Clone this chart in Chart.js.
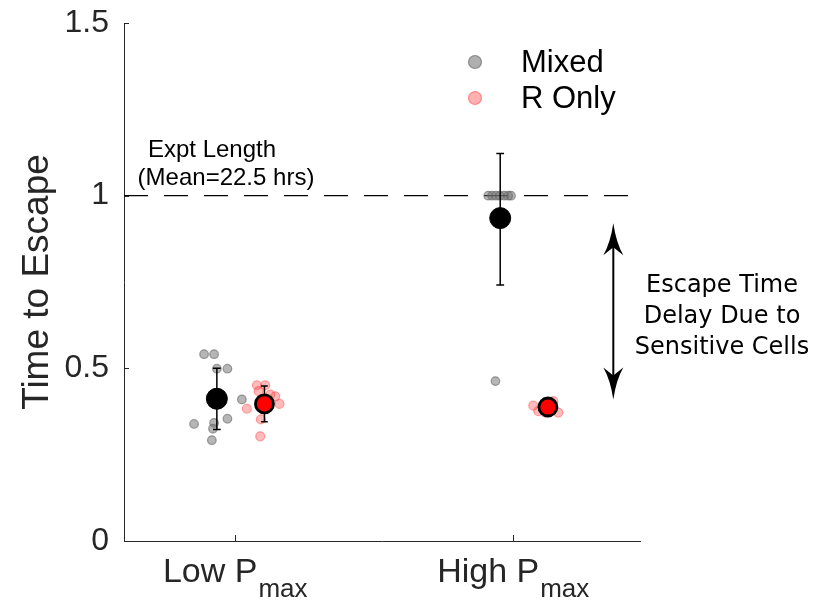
<!DOCTYPE html>
<html>
<head>
<meta charset="utf-8">
<script src="https://cdn.jsdelivr.net/npm/chart.js@4.4.1/dist/chart.umd.min.js"></script>
<style>
  body { margin: 0; background: #fff; }
  canvas { display: block; }
</style>
</head>
<body>
<canvas id="escapeChart" width="816" height="602"></canvas>
<script>
// categories and where they sit on the x axis
const categories = ['Low', 'High'];
const categoryX = [1, 3.5];
const yTicks = [0, 0.5, 1, 1.5];
const exptLength = 1; // normalised experiment length (mean 22.5 hrs)

// individual runs, Mixed population
const mixedX = [0.72, 0.81, 0.835, 0.93, 1.06, 0.93, 0.63, 0.81, 0.80, 0.79,
                3.275, 3.31, 3.345, 3.38, 3.42, 3.455, 3.48, 3.34];
const mixedY = [0.541, 0.541, 0.499, 0.499, 0.410, 0.354, 0.339, 0.342, 0.325, 0.292,
                1.0, 1.0, 1.0, 1.0, 1.0, 1.0, 1.0, 0.463];

// individual runs, R Only population
const rOnlyX = [1.195, 1.27, 1.315, 1.36, 1.398, 1.105, 1.231, 1.225, 1.21,
                3.68, 3.86, 3.905, 3.725, 3.79, 3.815];
const rOnlyY = [0.451, 0.451, 0.424, 0.419, 0.397, 0.383, 0.352, 0.303, 0.434,
                0.392, 0.405, 0.372, 0.376, 0.372, 0.387];

// means with error bars
const mixedMeanX = [0.835, 3.383];
const mixedMean = [0.412, 0.935];
const mixedLo = [0.323, 0.741];
const mixedHi = [0.500, 1.122];

const rOnlyMeanX = [1.263, 3.812];
const rOnlyMean = [0.397, 0.388];
const rOnlyLo = [0.345, 0.377];
const rOnlyHi = [0.449, 0.399];

// delay arrow (x, y from, y to) in data units
const arrowX = 4.40;
const arrowY = [0.92, 0.41];

const FONT = "'Liberation Sans', Arial, Helvetica, sans-serif";
const AXIS = '#262626';

function toPts(xs, ys) {
    return xs.map((x, i) => ({ x: x, y: ys[i] }));
}

// error bar segments, separated by gaps
function errorSegments(xs, lo, hi, cap) {
    const pts = [];
    xs.forEach((x, i) => {
        pts.push({ x: x, y: lo[i] }, { x: x, y: hi[i] }, { x: x, y: null });
        pts.push({ x: x - cap, y: lo[i] }, { x: x + cap, y: lo[i] }, { x: x, y: null });
        pts.push({ x: x - cap, y: hi[i] }, { x: x + cap, y: hi[i] }, { x: x, y: null });
    });
    return pts;
}

const xMax = 4.64;

const decorations = {
    id: 'decorations',
    afterDraw(chart) {
        const ctx = chart.ctx;
        const xs = chart.scales.x;
        const ys = chart.scales.y;
        const area = chart.chartArea;

        ctx.save();
        ctx.strokeStyle = AXIS;
        ctx.lineWidth = 1;
        // inward tick marks
        yTicks.forEach(v => {
            const py = Math.round(ys.getPixelForValue(v)) + 0.5;
            ctx.beginPath();
            ctx.moveTo(area.left, py);
            ctx.lineTo(area.left + 5, py);
            ctx.stroke();
        });
        categoryX.forEach(v => {
            const px = Math.round(xs.getPixelForValue(v)) + 0.5;
            ctx.beginPath();
            ctx.moveTo(px, area.bottom);
            ctx.lineTo(px, area.bottom - 6);
            ctx.stroke();
        });

        // category labels with subscript
        ctx.fillStyle = AXIS;
        ctx.textBaseline = 'alphabetic';
        ctx.textAlign = 'left';
        categories.forEach((c, i) => {
            const main = c + ' P';
            ctx.font = '34px ' + FONT;
            const w1 = ctx.measureText(main).width;
            ctx.font = '26px ' + FONT;
            const w2 = ctx.measureText('max').width;
            const cx = xs.getPixelForValue(categoryX[i]);
            const x0 = cx - (w1 + w2 + 1) / 2;
            ctx.font = '34px ' + FONT;
            ctx.fillText(main, x0, 582);
            ctx.font = '26px ' + FONT;
            ctx.fillText('max', x0 + w1 + 1, 597);
        });

        // experiment length note
        ctx.fillStyle = '#000';
        ctx.textAlign = 'center';
        ctx.font = '24px ' + FONT;
        ctx.fillText('Expt Length', 212, 157);
        ctx.fillText('(Mean=22.5 hrs)', 226, 185);

        // legend
        const legend = [
            ['Mixed', 'rgba(110,110,110,0.55)', 'rgba(90,90,90,0.6)', 62],
            ['R Only', 'rgba(255,60,60,0.4)', 'rgba(255,40,40,0.45)', 98]
        ];
        legend.forEach(([label, fill, stroke, y]) => {
            ctx.beginPath();
            ctx.arc(475, y, 6.5, 0, Math.PI * 2);
            ctx.fillStyle = fill;
            ctx.fill();
            ctx.lineWidth = 1.2;
            ctx.strokeStyle = stroke;
            ctx.stroke();
            ctx.fillStyle = '#000';
            ctx.textAlign = 'left';
            ctx.font = '31px ' + FONT;
            ctx.fillText(label, 521, y + 10);
        });

        // double headed arrow
        const ax = xs.getPixelForValue(arrowX);
        const yTop = ys.getPixelForValue(arrowY[0]);
        const yBot = ys.getPixelForValue(arrowY[1]);
        ctx.strokeStyle = '#000';
        ctx.fillStyle = '#000';
        ctx.lineWidth = 2;
        ctx.beginPath();
        ctx.moveTo(ax, yTop + 20);
        ctx.lineTo(ax, yBot - 20);
        ctx.stroke();
        [[yTop, 1], [yBot, -1]].forEach(([tip, d]) => {
            ctx.beginPath();
            ctx.moveTo(ax, tip);
            ctx.quadraticCurveTo(ax + 3, tip + d * 20, ax + 10, tip + d * 32);
            ctx.lineTo(ax, tip + d * 24);
            ctx.lineTo(ax - 10, tip + d * 32);
            ctx.quadraticCurveTo(ax - 3, tip + d * 20, ax, tip);
            ctx.fill();
        });

        // arrow note
        ctx.textAlign = 'center';
        ctx.font = "24px 'DejaVu Sans', sans-serif";
        ctx.fillText('Escape Time', 722, 292);
        ctx.fillText('Delay Due to', 722, 323);
        ctx.fillText('Sensitive Cells', 722, 354);
        ctx.restore();
    }
};

new Chart(document.getElementById('escapeChart').getContext('2d'), {
    type: 'scatter',
    data: {
        datasets: [
            {
                label: 'Expt Length',
                data: [{ x: 0, y: exptLength }, { x: xMax, y: exptLength }],
                showLine: true,
                borderColor: '#000',
                borderWidth: 1.4,
                borderDash: [24, 16],
                pointRadius: 0,
                order: 6
            },
            {
                label: 'Mixed',
                data: toPts(mixedX, mixedY),
                backgroundColor: 'rgba(110,110,110,0.5)',
                borderColor: 'rgba(90,90,90,0.55)',
                borderWidth: 1.2,
                pointRadius: 4.3,
                order: 5
            },
            {
                label: 'R Only',
                data: toPts(rOnlyX, rOnlyY),
                backgroundColor: 'rgba(255,60,60,0.35)',
                borderColor: 'rgba(255,40,40,0.4)',
                borderWidth: 1.2,
                pointRadius: 4.5,
                order: 4
            },
            {
                label: 'Mixed error',
                data: errorSegments(mixedMeanX, mixedLo, mixedHi, 0.035)
                    .concat(errorSegments(rOnlyMeanX, rOnlyLo, rOnlyHi, 0.03)),
                showLine: true,
                spanGaps: false,
                borderColor: '#000',
                borderWidth: 1.5,
                pointRadius: 0,
                order: 3
            },
            {
                label: 'Mixed mean',
                data: toPts(mixedMeanX, mixedMean),
                backgroundColor: '#000',
                borderColor: '#000',
                borderWidth: 1,
                pointRadius: 10.5,
                order: 1
            },
            {
                label: 'R Only mean',
                data: toPts(rOnlyMeanX, rOnlyMean),
                backgroundColor: '#ff0000',
                borderColor: '#000',
                borderWidth: 2.8,
                pointRadius: 9,
                order: 0
            }
        ]
    },
    options: {
        responsive: false,
        animation: false,
        layout: { padding: { top: 23, right: 176, left: 0, bottom: 0 } },
        plugins: {
            legend: { display: false },
            tooltip: { enabled: false }
        },
        scales: {
            x: {
                type: 'linear',
                min: 0,
                max: xMax,
                grid: { display: true, drawOnChartArea: false, drawTicks: false },
                border: { display: true, color: AXIS, width: 1 },
                ticks: { display: false },
                afterFit(scale) { scale.height = 61; }
            },
            y: {
                type: 'linear',
                min: 0,
                max: 1.5,
                grid: {
                    display: true,
                    drawOnChartArea: false,
                    drawTicks: true,
                    tickLength: 15,
                    tickColor: 'rgba(0,0,0,0)'
                },
                border: { display: true, color: AXIS, width: 1 },
                ticks: {
                    stepSize: 0.5,
                    padding: 0,
                    color: AXIS,
                    font: { size: 32, family: FONT },
                    callback: v => String(v)
                },
                title: {
                    display: true,
                    text: 'Time to Escape',
                    color: AXIS,
                    font: { size: 37, family: FONT },
                    padding: { top: 16, bottom: 0 }
                },
                afterFit(scale) { scale.width = 124; }
            }
        }
    },
    plugins: [decorations]
});
</script>
</body>
</html>
